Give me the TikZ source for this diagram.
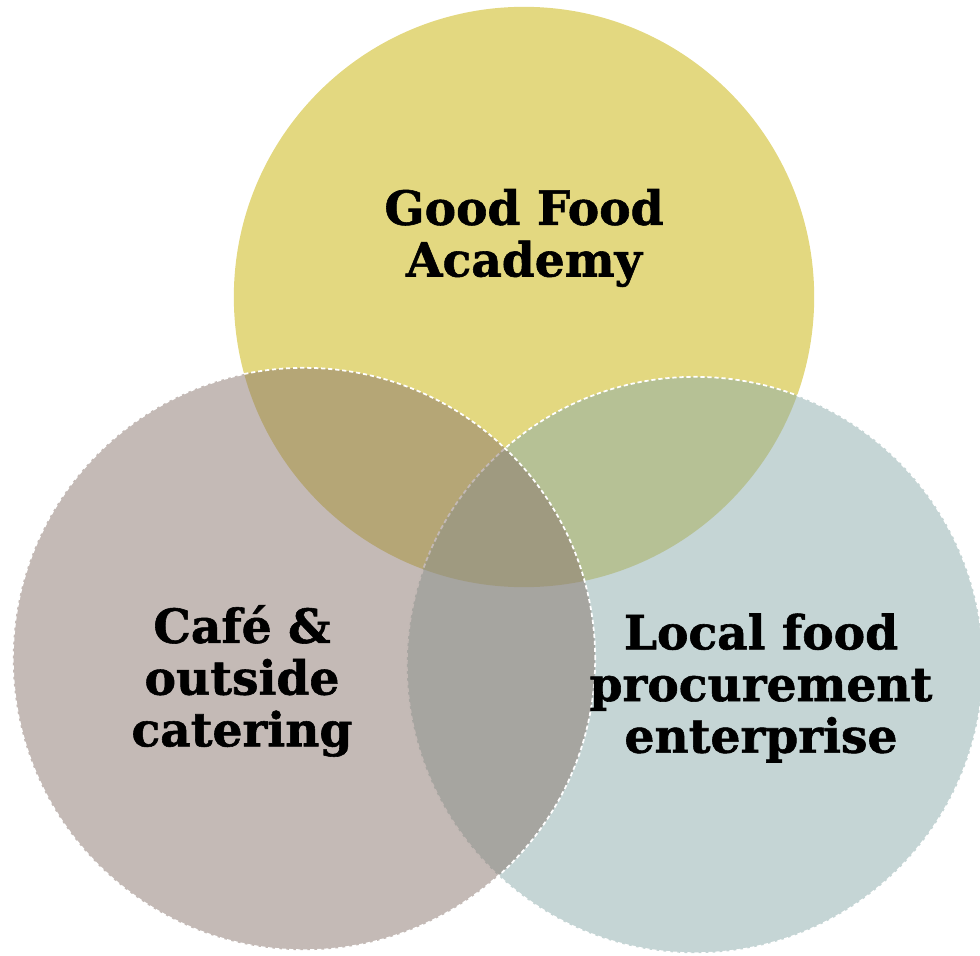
\documentclass[tikz,border=0pt]{standalone}
\usepackage{fontspec}
\setmainfont{DejaVu Serif}[BoldFeatures={FakeBold=1.2}]
\begin{document}
\begin{tikzpicture}[x=0.01cm,y=-0.01cm]
\definecolor{cyellow}{RGB}{227,216,128}
\definecolor{cright}{RGB}{139,171,171}
\definecolor{cleft}{RGB}{137,117,109}
\tikzset{
  disc/.style={circle, inner sep=0pt, minimum size=5.8cm},
  ring/.style={draw=white, line width=0.5pt, dash pattern=on 1.2pt off 0.8pt},
  lbl/.style={align=center, font=\fontsize{13.4}{14.7}\selectfont\bfseries, text=black, inner sep=0pt},
}
\useasboundingbox (0,0) rectangle (980,955);
\node[disc, fill=cyellow] (top) at (524,297) {};
\node[disc, minimum size=5.76cm, fill=cright, fill opacity=0.5, ring] (right) at (695,665) {};
\node[disc, minimum size=5.82cm, fill=cleft, fill opacity=0.5, ring] (left) at (304,659) {};
\node[lbl] (ltop) at (524,238) {Good Food\\Academy};
\node[lbl] (lleft) at (242,681) {Café \&\\outside\\catering};
\node[lbl] (lright) at (761,688) {Local food\\procurement\\enterprise};
\end{tikzpicture}
\end{document}
